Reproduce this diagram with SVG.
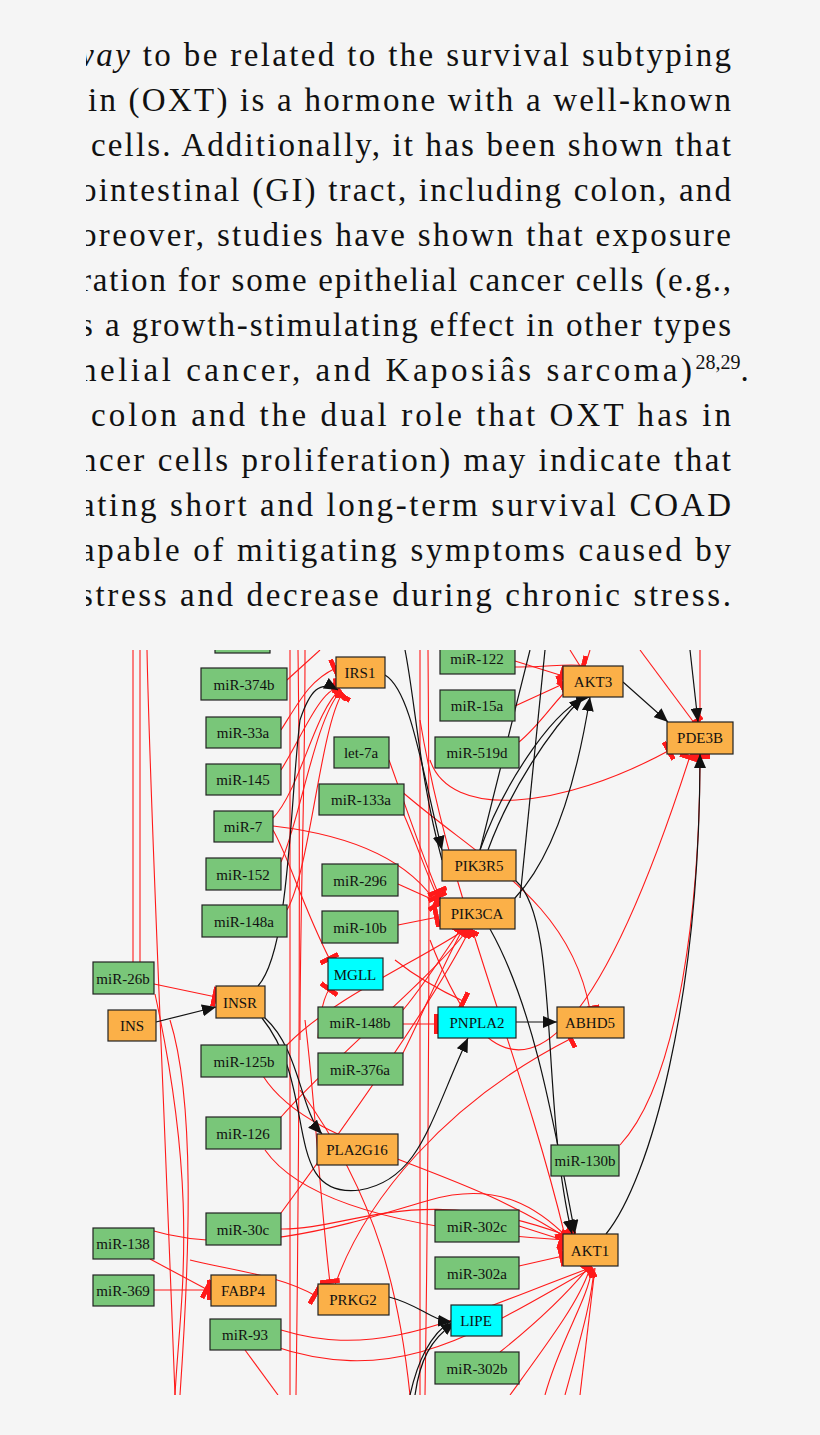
<svg xmlns="http://www.w3.org/2000/svg" width="820" height="1435" viewBox="0 0 820 1435">
<style>
.p{font-family:"Liberation Serif","DejaVu Serif",serif;font-size:33px;fill:#111}
.n rect{stroke:#222;stroke-width:1.2}
.g rect{fill:#79c679}.o rect{fill:#fbb048}.c rect{fill:#00ffff}
.n text{font-family:"Liberation Serif","DejaVu Serif",serif;font-size:15px;fill:#111;text-anchor:middle}
.r{fill:none;stroke:#ff1a1a;stroke-width:1.1}
.k{fill:none;stroke:#111;stroke-width:1.2}
.ri{marker-end:url(#tee)}
.ka{marker-end:url(#arr)}
</style>
<defs>
<marker id="tee" viewBox="0 -10 5 20" refX="4" refY="0" markerWidth="5" markerHeight="20" markerUnits="userSpaceOnUse" orient="auto"><rect x="0" y="-10" width="5" height="20" fill="#ff1a1a"/></marker>
<marker id="arr" viewBox="0 -6 14 12" refX="14" refY="0" markerWidth="14" markerHeight="12" markerUnits="userSpaceOnUse" orient="auto"><path d="M0,-6L14,0L0,6z" fill="#111"/></marker>
<clipPath id="cl"><rect x="0" y="650" width="820" height="745"/></clipPath>
<clipPath id="tc"><rect x="86" y="0" width="700" height="640"/></clipPath>
</defs>
<rect width="820" height="1435" fill="#f5f5f5"/>
<g id="paragraph" clip-path="url(#tc)" class="p">
<text x="72" y="66" textLength="659" lengthAdjust="spacing"><tspan font-style="italic">way</tspan> to be related to the survival subtyping</text>
<text x="88" y="111" textLength="643" lengthAdjust="spacing">in (OXT) is a hormone with a well-known</text>
<text x="91" y="156" textLength="640" lengthAdjust="spacing">cells. Additionally, it has been shown that</text>
<text x="80" y="201" textLength="651" lengthAdjust="spacing">ointestinal (GI) tract, including colon, and</text>
<text x="80" y="246" textLength="651" lengthAdjust="spacing">oreover, studies have shown that exposure</text>
<text x="80" y="291" textLength="651" lengthAdjust="spacing">ration for some epithelial cancer cells (e.g.,</text>
<text x="80" y="336" textLength="651" lengthAdjust="spacing">s a growth-stimulating effect in other types</text>
<text x="80" y="381"><tspan textLength="612" lengthAdjust="spacing">helial cancer, and Kaposiâs sarcoma)</tspan><tspan font-size="20" dy="-12">28,29</tspan><tspan dy="12">.</tspan></text>
<text x="91" y="426" textLength="640" lengthAdjust="spacing">colon and the dual role that OXT has in</text>
<text x="80" y="471" textLength="651" lengthAdjust="spacing">ncer cells proliferation) may indicate that</text>
<text x="80" y="516" textLength="651" lengthAdjust="spacing">ating short and long-term survival COAD</text>
<text x="80" y="561" textLength="651" lengthAdjust="spacing">apable of mitigating symptoms caused by</text>
<text x="80" y="606" textLength="651" lengthAdjust="spacing">stress and decrease during chronic stress.</text>
</g>
<g clip-path="url(#cl)">
<g id="edges">
<path class="r" d="M133,650V962"/>
<path class="r" d="M140,650V962"/>
<path class="r" d="M147,650C150,800 160,1000 175,1395"/>
<path class="r" d="M155,994C200,1200 180,1300 175,1395"/>
<path class="r" d="M170,1020C195,1100 190,1250 180,1395"/>
<path class="r ri" d="M154,984L216,997"/>
<path class="r ri" d="M154,1290L211,1290"/>
<path class="r ri" d="M150,1259L208,1290"/>
<path class="r ri" d="M190,1260C230,1270 280,1275 316,1296"/>
<path class="r" d="M287,680L320,650"/>
<path class="r ri" d="M281,730C300,700 310,680 336,668"/>
<path class="r ri" d="M281,770C300,740 320,690 338,688"/>
<path class="r ri" d="M273,818C300,790 315,710 340,690"/>
<path class="r ri" d="M281,862C300,820 315,720 340,692"/>
<path class="r ri" d="M287,910C310,870 320,730 342,694"/>
<path class="r" d="M290,650V1395"/>
<path class="r" d="M298,650C300,800 300,1100 296,1395"/>
<path class="r" d="M305,650C305,800 300,900 300,1040"/>
<path class="r ri" d="M273,830C290,860 300,900 330,960"/>
<path class="r ri" d="M318,1038C320,1010 325,995 330,988"/>
<path class="r ri" d="M273,826C350,835 410,860 438,906"/>
<path class="r ri" d="M389,760C400,790 420,850 438,893"/>
<path class="r ri" d="M404,815C415,840 425,870 438,898"/>
<path class="r ri" d="M398,884L438,902"/>
<path class="r ri" d="M398,925L438,917"/>
<path class="r" d="M420,650V1395"/>
<path class="r" d="M428,650C430,900 428,1200 425,1395"/>
<path class="r ri" d="M403,1010C420,990 440,960 460,930"/>
<path class="r ri" d="M403,1053C420,1020 445,960 463,929"/>
<path class="r ri" d="M287,1045C330,1000 420,960 466,929"/>
<path class="r ri" d="M281,1117C330,1060 430,980 468,929"/>
<path class="r ri" d="M281,1213C320,1160 430,1010 470,929"/>
<path class="r ri" d="M403,1024L438,1024"/>
<path class="r ri" d="M395,960C420,980 450,995 465,1002"/>
<path class="r ri" d="M515,661L563,676"/>
<path class="r ri" d="M515,706L563,684"/>
<path class="r ri" d="M519,742C540,725 555,700 572,685"/>
<path class="r ri" d="M440,650C500,680 560,660 585,666"/>
<path class="r" d="M570,650L580,666"/>
<path class="r" d="M590,650L585,666"/>
<path class="r ri" d="M430,760C450,820 560,810 670,750"/>
<path class="r ri" d="M640,650L695,724"/>
<path class="r ri" d="M620,1145C680,1080 700,900 700,755"/>
<path class="r ri" d="M430,940C480,1070 560,1160 690,756"/>
<path class="r ri" d="M400,790C480,860 570,900 590,1010"/>
<path class="r ri" d="M330,1300C360,1200 450,1100 572,1038"/>
<path class="r ri" d="M519,1226L563,1240"/>
<path class="r ri" d="M519,1266L563,1256"/>
<path class="r ri" d="M263,1076C310,1150 450,1160 570,1240"/>
<path class="r ri" d="M265,1150C300,1200 400,1230 565,1240"/>
<path class="r ri" d="M281,1229C350,1230 420,1180 568,1236"/>
<path class="r ri" d="M150,1230C250,1260 360,1220 430,1200C500,1180 540,1210 568,1238"/>
<path class="r ri" d="M420,720C450,900 520,1050 565,1236"/>
<path class="r ri" d="M281,1330C380,1360 450,1320 590,1268"/>
<path class="r ri" d="M270,1345C400,1390 480,1330 592,1268"/>
<path class="r ri" d="M500,1352C540,1320 570,1290 588,1268"/>
<path class="r" d="M510,1395C550,1340 580,1300 590,1268"/>
<path class="r" d="M545,1395C560,1340 588,1300 592,1268"/>
<path class="r" d="M565,1395C580,1340 592,1300 594,1268"/>
<path class="r" d="M580,1395L595,1268"/>
<path class="r" d="M245,1350L278,1395"/>
<path class="r" d="M300,1090C380,1200 400,1300 410,1395"/>
<path class="r ri" d="M305,1020C315,1100 320,1200 330,1283"/>
<path class="r" d="M700,650V722"/>
<path class="k ka" d="M385,675C410,690 420,760 442,850"/>
<path class="k" d="M405,650C415,700 420,780 442,860"/>
<path class="k ka" d="M258,986C290,950 290,800 300,720C310,690 320,680 338,690"/>
<path class="k ka" d="M156,1022L216,1007"/>
<path class="k ka" d="M265,1018C300,1050 300,1110 322,1134"/>
<path class="k ka" d="M262,1018C320,1090 280,1200 360,1190C420,1180 430,1120 468,1038"/>
<path class="k ka" d="M488,850C510,790 550,730 583,697"/>
<path class="k ka" d="M480,850C505,780 560,700 590,697"/>
<path class="k ka" d="M515,898C560,850 580,760 590,697"/>
<path class="k ka" d="M623,682L668,722"/>
<path class="k ka" d="M516,1022L557,1022"/>
<path class="k ka" d="M490,929C530,1000 550,1100 575,1234"/>
<path class="k ka" d="M516,881C560,920 540,1100 572,1234"/>
<path class="k ka" d="M606,1234C650,1180 700,1000 700,754"/>
<path class="k ka" d="M389,1297C420,1305 430,1320 452,1322"/>
<path class="k ka" d="M415,1395C420,1360 430,1340 455,1322"/>
<path class="k" d="M410,1395C418,1360 430,1335 452,1320"/>
<path class="k" d="M530,650L480,850"/>
<path class="k ka" d="M690,650L698,722"/>
<path class="k" d="M545,650L520,898"/>
</g>
<g id="n0" class="n g"><rect x="215" y="620" width="55" height="33"/></g>
<g id="miR-374b" class="n g"><rect x="201" y="668" width="86" height="32"/><text x="244" y="690">miR-374b</text></g>
<g id="IRS1" class="n o"><rect x="336" y="657" width="49" height="31"/><text x="360" y="678">IRS1</text></g>
<g id="miR-122" class="n g"><rect x="440" y="643" width="75" height="31"/><text x="477" y="664">miR-122</text></g>
<g id="AKT3" class="n o"><rect x="563" y="666" width="60" height="31"/><text x="593" y="687">AKT3</text></g>
<g id="miR-15a" class="n g"><rect x="440" y="690" width="75" height="31"/><text x="477" y="711">miR-15a</text></g>
<g id="PDE3B" class="n o"><rect x="667" y="722" width="66" height="32"/><text x="700" y="743">PDE3B</text></g>
<g id="miR-33a" class="n g"><rect x="206" y="717" width="75" height="31"/><text x="243" y="738">miR-33a</text></g>
<g id="let-7a" class="n g"><rect x="334" y="737" width="55" height="31"/><text x="361" y="758">let-7a</text></g>
<g id="miR-519d" class="n g"><rect x="435" y="737" width="84" height="31"/><text x="477" y="758">miR-519d</text></g>
<g id="miR-145" class="n g"><rect x="206" y="764" width="75" height="31"/><text x="243" y="785">miR-145</text></g>
<g id="miR-133a" class="n g"><rect x="319" y="784" width="85" height="31"/><text x="361" y="805">miR-133a</text></g>
<g id="miR-7" class="n g"><rect x="214" y="811" width="59" height="31"/><text x="243" y="832">miR-7</text></g>
<g id="PIK3R5" class="n o"><rect x="442" y="850" width="74" height="31"/><text x="479" y="871">PIK3R5</text></g>
<g id="miR-152" class="n g"><rect x="206" y="858" width="75" height="32"/><text x="243" y="880">miR-152</text></g>
<g id="miR-296" class="n g"><rect x="322" y="864" width="76" height="32"/><text x="360" y="886">miR-296</text></g>
<g id="PIK3CA" class="n o"><rect x="440" y="898" width="75" height="31"/><text x="477" y="919">PIK3CA</text></g>
<g id="miR-148a" class="n g"><rect x="202" y="905" width="85" height="32"/><text x="244" y="927">miR-148a</text></g>
<g id="miR-10b" class="n g"><rect x="322" y="911" width="76" height="32"/><text x="360" y="933">miR-10b</text></g>
<g id="MGLL" class="n c"><rect x="328" y="958" width="55" height="32"/><text x="355" y="980">MGLL</text></g>
<g id="miR-26b" class="n g"><rect x="93" y="962" width="61" height="32"/><text x="123" y="984">miR-26b</text></g>
<g id="INSR" class="n o"><rect x="216" y="986" width="49" height="32"/><text x="240" y="1008">INSR</text></g>
<g id="INS" class="n o"><rect x="108" y="1010" width="48" height="31"/><text x="132" y="1031">INS</text></g>
<g id="miR-148b" class="n g"><rect x="318" y="1007" width="85" height="31"/><text x="360" y="1028">miR-148b</text></g>
<g id="PNPLA2" class="n c"><rect x="438" y="1007" width="78" height="31"/><text x="477" y="1028">PNPLA2</text></g>
<g id="ABHD5" class="n o"><rect x="557" y="1007" width="67" height="31"/><text x="590" y="1028">ABHD5</text></g>
<g id="miR-125b" class="n g"><rect x="201" y="1045" width="86" height="32"/><text x="244" y="1067">miR-125b</text></g>
<g id="miR-376a" class="n g"><rect x="318" y="1053" width="85" height="32"/><text x="360" y="1075">miR-376a</text></g>
<g id="miR-126" class="n g"><rect x="206" y="1117" width="75" height="32"/><text x="243" y="1139">miR-126</text></g>
<g id="PLA2G16" class="n o"><rect x="317" y="1134" width="81" height="31"/><text x="357" y="1155">PLA2G16</text></g>
<g id="miR-130b" class="n g"><rect x="551" y="1145" width="68" height="31"/><text x="585" y="1166">miR-130b</text></g>
<g id="miR-302c" class="n g"><rect x="435" y="1210" width="84" height="32"/><text x="477" y="1232">miR-302c</text></g>
<g id="miR-30c" class="n g"><rect x="206" y="1213" width="75" height="32"/><text x="243" y="1235">miR-30c</text></g>
<g id="miR-138" class="n g"><rect x="93" y="1228" width="61" height="31"/><text x="123" y="1249">miR-138</text></g>
<g id="AKT1" class="n o"><rect x="563" y="1234" width="55" height="32"/><text x="590" y="1256">AKT1</text></g>
<g id="miR-302a" class="n g"><rect x="435" y="1257" width="84" height="32"/><text x="477" y="1279">miR-302a</text></g>
<g id="miR-369" class="n g"><rect x="93" y="1275" width="61" height="31"/><text x="123" y="1296">miR-369</text></g>
<g id="FABP4" class="n o"><rect x="211" y="1275" width="65" height="31"/><text x="243" y="1296">FABP4</text></g>
<g id="PRKG2" class="n o"><rect x="318" y="1284" width="71" height="31"/><text x="353" y="1305">PRKG2</text></g>
<g id="LIPE" class="n c"><rect x="451" y="1305" width="51" height="31"/><text x="476" y="1326">LIPE</text></g>
<g id="miR-93" class="n g"><rect x="210" y="1319" width="71" height="31"/><text x="245" y="1340">miR-93</text></g>
<g id="miR-302b" class="n g"><rect x="435" y="1352" width="84" height="32"/><text x="477" y="1374">miR-302b</text></g>
</g>
</svg>
